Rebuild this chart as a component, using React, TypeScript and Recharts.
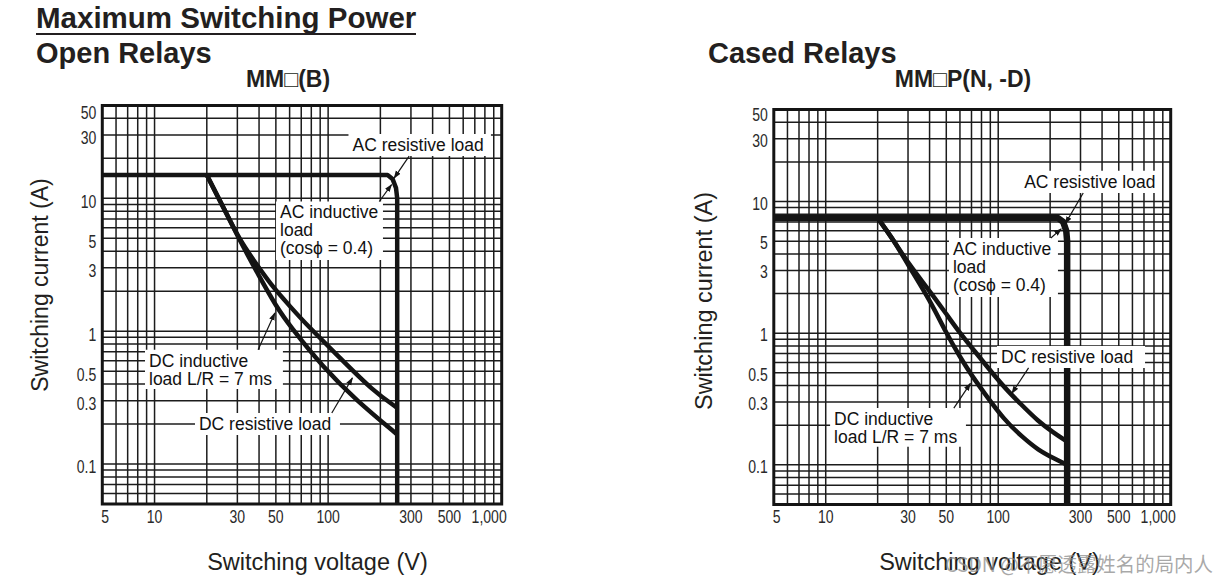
import React from 'react';
import { LineChart, Line, XAxis, YAxis, CartesianGrid, ReferenceArea } from 'recharts';

// ---------- data ----------
const xTicks = [5, 10, 30, 50, 100, 300, 500, 1000];
const yTicks = [0.1, 0.3, 0.5, 1, 3, 5, 10, 30, 50];
const xGridValues = [6, 7, 8, 9, 10, 20, 30, 40, 50, 60, 70, 80, 90, 100, 200, 300, 400, 500, 600, 700, 800, 900];
const yGridValues = [0.06, 0.07, 0.08, 0.09, 0.1, 0.2, 0.3, 0.4, 0.5, 0.6, 0.7, 0.8, 0.9, 1, 2, 3, 4, 5, 6, 7, 8, 9, 10, 20, 30, 40];

// Open relays MM(B)
const openAC = [
  { v: 5, i: 15 }, { v: 220, i: 15 }, { v: 235, i: 14 }, { v: 246, i: 12 }, { v: 250, i: 10 }, { v: 250, i: 0.05 },
];
const openDCRes = [
  { v: 20, i: 15 }, { v: 25, i: 8.5 }, { v: 31, i: 4.8 }, { v: 40, i: 3.0 }, { v: 48, i: 2.15 },
  { v: 60, i: 1.55 }, { v: 75, i: 1.12 }, { v: 117, i: 0.63 }, { v: 182, i: 0.354 }, { v: 250, i: 0.265 },
];
const openDCInd = [
  { v: 20, i: 15 }, { v: 25, i: 8.5 }, { v: 31, i: 4.8 }, { v: 40, i: 2.6 }, { v: 50, i: 1.55 },
  { v: 60, i: 1.1 }, { v: 94, i: 0.53 }, { v: 146, i: 0.3 }, { v: 250, i: 0.167 },
];

// Cased relays MMP(N, -D)
const casedAC = [
  { v: 5, i: 7.5 }, { v: 222, i: 7.5 }, { v: 238, i: 7 }, { v: 248, i: 6 }, { v: 251, i: 5 }, { v: 251, i: 0.05 },
];
const casedDCRes = [
  { v: 20, i: 7.5 }, { v: 25, i: 5.0 }, { v: 30, i: 3.4 }, { v: 40, i: 2.1 }, { v: 50, i: 1.4 },
  { v: 60, i: 1.0 }, { v: 75, i: 0.7 }, { v: 90, i: 0.52 }, { v: 110, i: 0.38 }, { v: 135, i: 0.29 },
  { v: 170, i: 0.215 }, { v: 210, i: 0.175 }, { v: 251, i: 0.15 },
];
const casedDCInd = [
  { v: 20, i: 7.5 }, { v: 25, i: 5.0 }, { v: 30, i: 3.3 }, { v: 40, i: 1.8 }, { v: 50, i: 1.0 },
  { v: 60, i: 0.66 }, { v: 70, i: 0.48 }, { v: 82, i: 0.36 }, { v: 108, i: 0.22 }, { v: 140, i: 0.16 },
  { v: 170, i: 0.13 }, { v: 210, i: 0.112 }, { v: 251, i: 0.1 },
];

// annotation boxes (data coordinates) and their text
const openNotes = [
  { x1: 131, x2: 867, y1: 20.8, y2: 30.5, lines: ['AC resistive load'] },
  { x1: 50.1, x2: 207, y1: 3.44, y2: 9.47, lines: ['AC inductive', 'load', '(cos\u03D5 = 0.4)'] },
  { x1: 8.81, x2: 54.9, y1: 0.367, y2: 0.726, lines: ['DC inductive', 'load L/R = 7 ms'] },
  { x1: 17.1, x2: 117, y1: 0.165, y2: 0.242, lines: ['DC resistive load'] },
];
const casedNotes = [
  { x1: 134, x2: 890, y1: 11.6, y2: 17.1, lines: ['AC resistive load'] },
  { x1: 51.8, x2: 222, y1: 1.88, y2: 5.28, lines: ['AC inductive', 'load', '(cos\u03D5 = 0.4)'] },
  { x1: 98.4, x2: 710, y1: 0.545, y2: 0.8, lines: ['DC resistive load'] },
  { x1: 10.6, x2: 65, y1: 0.137, y2: 0.27, lines: ['DC inductive', 'load L/R = 7 ms'] },
];

// leader lines (start at label, arrow at curve)
const openLeaders = [
  [{ v: 293, i: 20.8 }, { v: 240, i: 14.2 }],
  [{ v: 197, i: 9.47 }, { v: 232, i: 12.7 }],
  [{ v: 39.5, i: 0.726 }, { v: 49.3, i: 1.37 }],
  [{ v: 105, i: 0.242 }, { v: 138, i: 0.445 }],
];
const casedLeaders = [
  [{ v: 311, i: 11.6 }, { v: 245, i: 6.8 }],
  [{ v: 202, i: 5.28 }, { v: 232, i: 6.2 }],
  [{ v: 150, i: 0.545 }, { v: 120, i: 0.35 }],
  [{ v: 55.3, i: 0.27 }, { v: 69, i: 0.416 }],
];

// ---------- styling ----------
const FONT = "'Liberation Sans', Arial, Helvetica, sans-serif";
const INK = '#141414';
const TICK_SCALE = 0.78;

const fmtX = (v: number) => (v === 1000 ? '1,000' : String(v));

const XTick = (props: any) => {
  const { x, y, payload } = props;
  const v = payload.value;
  const anchor = v === 1000 ? 'end' : v === 5 ? 'start' : 'middle';
  const dx = v === 1000 ? 5 : v === 5 ? -1 : 0;
  return (
    <g transform={`translate(${x + dx},${y}) scale(${TICK_SCALE},1)`}>
      <text x={0} y={0} dy="0.72em" textAnchor={anchor} fontSize={18} fontFamily={FONT} fill="#2a2a2a">
        {fmtX(v)}
      </text>
    </g>
  );
};

const makeYTick = (shift: number) => (props: any) => {
  const { x, y, payload } = props;
  const v = payload.value;
  const extra = v === 50 ? 4 : 0;
  return (
    <g transform={`translate(${x},${y + shift + extra}) scale(${TICK_SCALE},1)`}>
      <text x={0} y={0} dy="0.36em" textAnchor="end" fontSize={18} fontFamily={FONT} fill="#2a2a2a">
        {String(v)}
      </text>
    </g>
  );
};

const noteLabel = (lines: string[]) => (props: any) => {
  const vb = props.viewBox ?? props;
  const x = vb.x + 4;
  const y = vb.y + 17;
  return (
    <text x={x} y={y} fontSize={17.5} fontFamily={FONT} fill="#111">
      {lines.map((l, k) => (
        <tspan key={k} x={x} dy={k === 0 ? 0 : 18}>
          {l}
        </tspan>
      ))}
    </text>
  );
};

type Pt = { v: number; i: number };
type ChartProps = {
  left: number;
  width: number;
  height: number;
  margin: { top: number; right: number; bottom: number; left: number };
  ac: Pt[];
  dcRes: Pt[];
  dcInd: Pt[];
  notes: typeof openNotes;
  leaders: Pt[][];
  acWidth: number;
  yShift: number;
};

function RelayChart(p: ChartProps) {
  const extra: any = {};
  return (
    <div style={{ position: 'absolute', left: p.left, top: 0, width: p.width, height: p.height }}>
      <LineChart width={p.width} height={p.height} margin={p.margin}>
        <CartesianGrid
          horizontalValues={yGridValues}
          verticalValues={xGridValues}
          stroke="#1c1c1c"
          strokeWidth={1.5}
        />
        <XAxis
          type="number"
          dataKey="v"
          scale="log"
          domain={[5, 1000]}
          allowDataOverflow
          ticks={xTicks}
          interval={0}
          tick={<XTick />}
          tickLine={false}
          axisLine={false}
          tickSize={0}
          tickMargin={6}
          height={30}
        />
        <YAxis
          type="number"
          dataKey="i"
          scale="log"
          domain={[0.05, 50]}
          allowDataOverflow
          ticks={yTicks}
          interval={0}
          tick={makeYTick(p.yShift)}
          tickLine={false}
          axisLine={false}
          tickSize={0}
          tickMargin={6}
          width={40}
        />
        <ReferenceArea x1={5} x2={1000} y1={0.05} y2={50} fill="none" stroke={INK} strokeWidth={3} />
        <Line data={p.dcInd} dataKey="i" type="basis" stroke={INK} strokeWidth={4.5} dot={false} isAnimationActive={false} />
        <Line data={p.dcRes} dataKey="i" type="basis" stroke={INK} strokeWidth={4.5} dot={false} isAnimationActive={false} />
        <Line data={p.ac} dataKey="i" type="linear" stroke={INK} strokeWidth={p.acWidth} strokeLinejoin="round" dot={false} isAnimationActive={false} />
        {p.notes.map((n, k) => (
          <ReferenceArea
            key={'n' + k}
            x1={n.x1}
            x2={n.x2}
            y1={n.y1}
            y2={n.y2}
            fill="#ffffff"
            fillOpacity={1}
            stroke="none"
            label={noteLabel(n.lines)}
            {...{ zIndex: 450 }}
            {...extra}
          />
        ))}
        {p.leaders.map((seg, k) => (
          <Line
            key={'l' + k}
            data={seg}
            dataKey="i"
            type="linear"
            stroke={INK}
            strokeWidth={1.2}
            dot={false}
            isAnimationActive={false}
            markerEnd="url(#arrowHead)"
            {...{ zIndex: 500 }}
          />
        ))}
      </LineChart>
    </div>
  );
}

export default function App() {
  return (
    <div style={{ position: 'absolute', left: 0, top: 0, width: 1232, height: 585, background: '#fff', overflow: 'hidden' }}>
      <RelayChart
        left={0}
        width={530}
        height={560}
        margin={{ top: 105.5, right: 28.3, bottom: 26, left: 62.3 }}
        ac={openAC}
        dcRes={openDCRes}
        dcInd={openDCInd}
        notes={openNotes}
        leaders={openLeaders}
        acWidth={4.5}
        yShift={3}
      />
      <RelayChart
        left={680}
        width={520}
        height={560}
        margin={{ top: 109.5, right: 29.3, bottom: 25.5, left: 53.8 }}
        ac={casedAC}
        dcRes={casedDCRes}
        dcInd={casedDCInd}
        notes={casedNotes}
        leaders={casedLeaders}
        acWidth={6.5}
        yShift={1.5}
      />
      <svg
        width={1232}
        height={585}
        style={{ position: 'absolute', left: 0, top: 0, pointerEvents: 'none' }}
      >
        <defs>
          <marker id="arrowHead" viewBox="0 0 10 10" refX="9" refY="5" markerWidth="8" markerHeight="8" markerUnits="userSpaceOnUse" orient="auto">
            <path d="M0,1.5 L10,5 L0,8.5 z" fill={INK} />
          </marker>
        </defs>
        <g fontFamily={FONT} fill="#231f20">
          <text x={36} y={28} fontSize={29.5} fontWeight="bold">Maximum Switching Power</text>
          <line x1={36} x2={416} y1={34} y2={34} stroke="#231f20" strokeWidth={1.8} />
          <text x={36} y={63} fontSize={29} fontWeight="bold">Open Relays</text>
          <text x={288} y={87} fontSize={23} fontWeight="bold" textAnchor="middle">MM{'\u25A1'}(B)</text>
          <text x={708} y={63} fontSize={29} fontWeight="bold">Cased Relays</text>
          <text x={963} y={87} fontSize={23} fontWeight="bold" textAnchor="middle">MM{'\u25A1'}P(N, -D)</text>
          <text transform="translate(48,285) rotate(-90)" fontSize={23} textAnchor="middle">Switching current (A)</text>
          <text transform="translate(712,301) rotate(-90)" fontSize={23.5} textAnchor="middle">Switching current (A)</text>
          <text x={317.5} y={570} fontSize={23.5} textAnchor="middle">Switching voltage (V)</text>
          <text x={989.5} y={570} fontSize={23.5} textAnchor="middle">Switching voltage (V)</text>
        </g>
        <text
          x={945}
          y={572}
          fontSize={20}
          textLength={268}
          lengthAdjust="spacingAndGlyphs"
          fontFamily="'Noto Sans CJK SC', 'Noto Sans', sans-serif"
          fill="rgba(140,140,140,0.75)"
        >
          CSDN @不愿透露姓名的局内人
        </text>
      </svg>
    </div>
  );
}
